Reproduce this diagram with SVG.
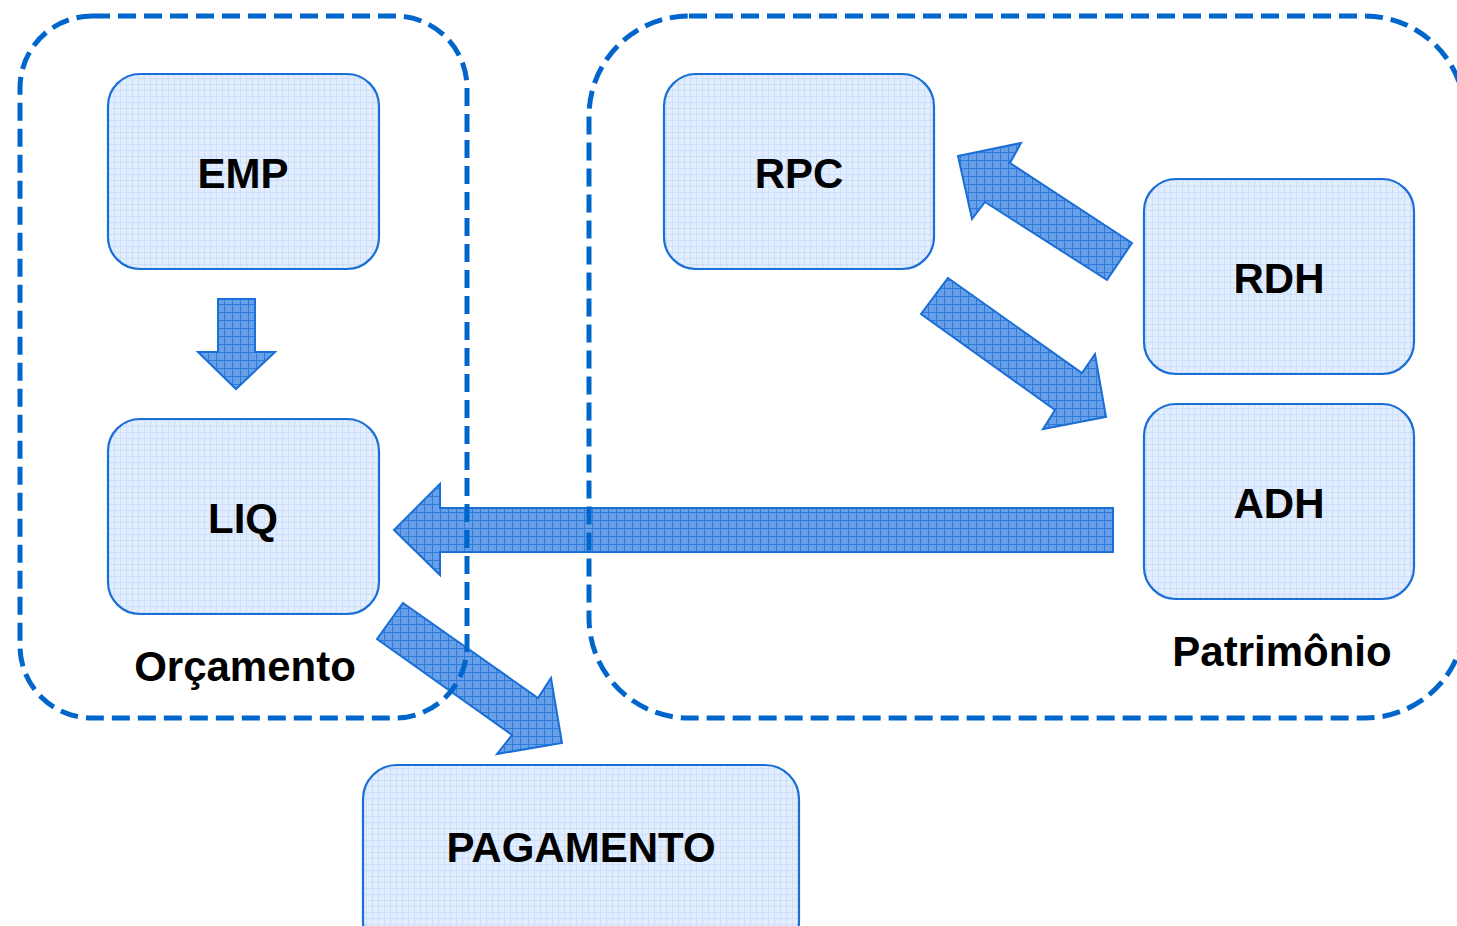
<svg xmlns="http://www.w3.org/2000/svg" width="1457" height="926" viewBox="0 0 1457 926">
<defs>
<pattern id="boxfill" width="6" height="6" patternUnits="userSpaceOnUse">
<rect width="6" height="6" fill="#e2edfd"/>
<path d="M0 0.5H6M0.5 0V6" stroke="#cddffa" stroke-width="1"/>
</pattern>
<pattern id="arrowfill" width="8" height="8" patternUnits="userSpaceOnUse">
<rect width="8" height="8" fill="#679fe8"/>
<path d="M0 0.5H8M0.5 0V8" stroke="#2f7bd9" stroke-width="1"/>
</pattern>
</defs>
<style>
.node rect{fill:url(#boxfill);stroke:#1a6fd6;stroke-width:2.2}
.lbl{font-family:"Liberation Sans",Arial,sans-serif;font-weight:bold;font-size:42px;fill:#000;text-anchor:middle}
.arrow{fill:url(#arrowfill);stroke:#1a6fd6;stroke-width:2;stroke-linejoin:miter}
.group{fill:none;stroke:#0066cc;stroke-width:5;stroke-dasharray:18 8}
</style>
<rect width="1457" height="926" fill="#ffffff"/>
<g id="EMP" class="node"><rect x="108" y="74" width="271" height="195" rx="32"/><text class="lbl" x="243" y="188">EMP</text></g>
<g id="LIQ" class="node"><rect x="108" y="419" width="271" height="195" rx="32"/><text class="lbl" x="243" y="533">LIQ</text></g>
<g id="RPC" class="node"><rect x="664" y="74" width="270" height="195" rx="32"/><text class="lbl" x="799" y="188">RPC</text></g>
<g id="RDH" class="node"><rect x="1144" y="179" width="270" height="195" rx="32"/><text class="lbl" x="1279" y="293">RDH</text></g>
<g id="ADH" class="node"><rect x="1144" y="404" width="270" height="195" rx="32"/><text class="lbl" x="1279" y="518">ADH</text></g>
<g id="PAGAMENTO" class="node"><rect x="363" y="765" width="436" height="190" rx="34"/><text class="lbl" x="581" y="862">PAGAMENTO</text></g>
<g id="connectors">
<polygon class="arrow" points="218,299 255,299 255,352 275,352 236,389 198,352 218,352"/>
<polygon class="arrow" points="1113,508 1113,552 440,552 440,575 394,530 440,484 440,508"/>
<polygon class="arrow" points="958,156 1021,143 1010,163 1132,243 1107,280 985,202 972,219"/>
<polygon class="arrow" points="948,278 1082,373 1095,354 1106,417 1043,429 1055,410 921,314"/>
<polygon class="arrow" points="403,603 538,698 551,678 562,743 497,754 512,735 377,639"/>
</g>
<g id="Orcamento"><rect class="group" x="20" y="16" width="447" height="702" rx="72"/><text class="lbl" x="245" y="681">Orçamento</text></g>
<g id="Patrimonio"><rect class="group" x="589" y="16" width="876" height="702" rx="100"/><text class="lbl" x="1282" y="666">Patrimônio</text></g>
</svg>
